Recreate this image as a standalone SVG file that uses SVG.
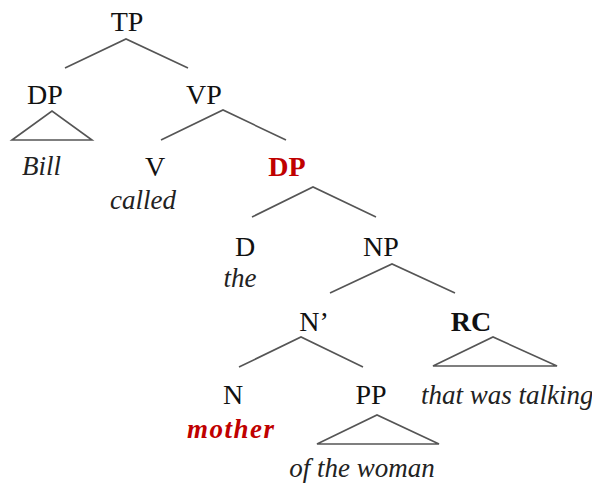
<svg xmlns="http://www.w3.org/2000/svg" width="592" height="486" viewBox="0 0 592 486">
<style>
.lbl{font-family:"Liberation Serif","Times New Roman",serif;font-size:28px;fill:#111;text-anchor:middle}
.bold{font-weight:bold}
.w{font-family:"Liberation Serif","Times New Roman",serif;font-size:27px;font-style:italic;fill:#222}
.lbl.red,.w.red{fill:#c00000;font-weight:bold}
.e{fill:none;stroke:#555;stroke-width:1.6}
</style>
<rect width="592" height="486" fill="#fff"/>
<g id="connectors">
<polyline class="e" points="65,68 126,39 188,68"/>
<polygon class="e" points="12,140 52,111 92,140"/>
<polyline class="e" points="161,140 223,110 286,140"/>
<polyline class="e" points="252,217 313,187 376,217"/>
<polyline class="e" points="330,293 392,264 455,293"/>
<polyline class="e" points="239,367 301,337 363,367"/>
<polygon class="e" points="433,366 493,337 557,366"/>
<polygon class="e" points="317,444 377,415 439,444"/>
</g>
<g id="TP"><text class="lbl" x="127" y="31">TP</text></g>
<g id="DP1"><text class="lbl" x="45" y="104">DP</text></g>
<g id="Bill"><text class="w" x="22" y="175">Bill</text></g>
<g id="VP"><text class="lbl" x="204" y="104">VP</text></g>
<g id="V"><text class="lbl" x="155" y="176">V</text></g>
<g id="called"><text class="w" x="143" y="209" text-anchor="middle">called</text></g>
<g id="DP2"><text class="lbl red" x="287" y="176">DP</text></g>
<g id="D"><text class="lbl" x="245" y="256">D</text></g>
<g id="the"><text class="w" x="240" y="287" text-anchor="middle">the</text></g>
<g id="NP"><text class="lbl" x="381" y="256">NP</text></g>
<g id="Nbar"><text class="lbl" x="314" y="331">N’</text></g>
<g id="RC"><text class="lbl bold" x="471" y="331">RC</text></g>
<g id="talking"><text class="w" x="421" y="404" font-size="24">that was talking</text></g>
<g id="N"><text class="lbl" x="233" y="404">N</text></g>
<g id="mother"><text class="w red" x="187" y="438" letter-spacing="1.5">mother</text></g>
<g id="PP"><text class="lbl" x="371" y="404">PP</text></g>
<g id="woman"><text class="w" x="362" y="477" text-anchor="middle">of the woman</text></g>
</svg>
